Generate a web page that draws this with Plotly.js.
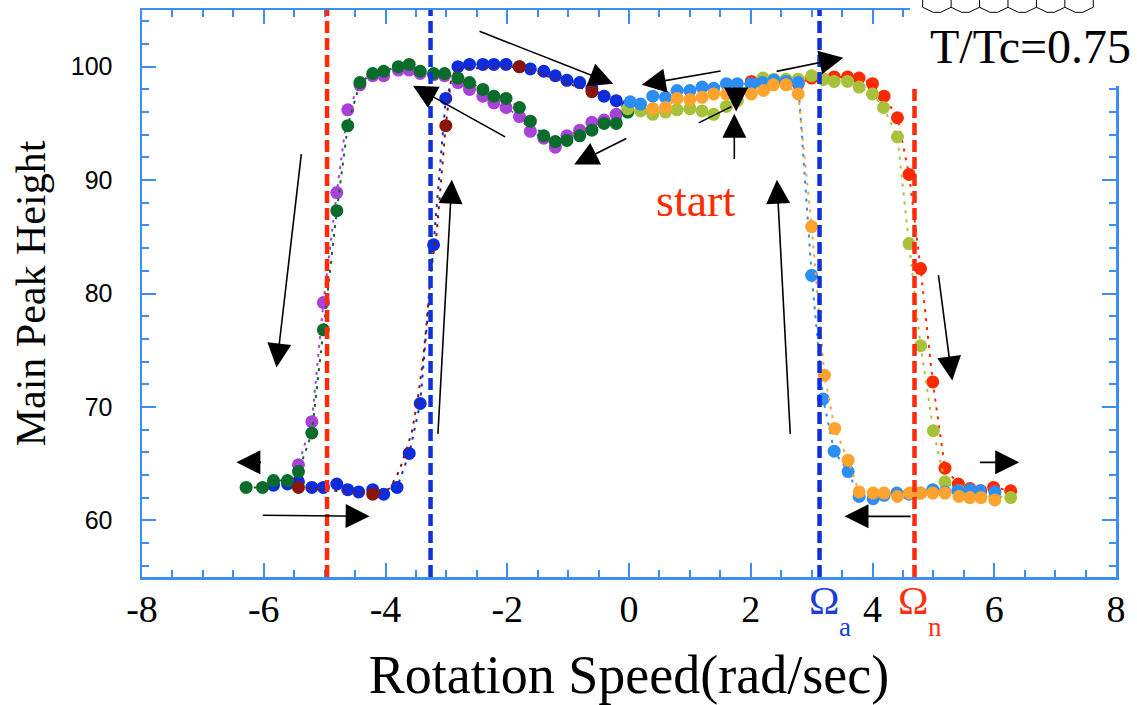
<!DOCTYPE html>
<html>
<head>
<meta charset="utf-8">
<script src="https://cdn.plot.ly/plotly-3.0.1.min.js"></script>
<style>
  html, body { margin: 0; padding: 0; background: #ffffff; }
  #chart { width: 1137px; height: 705px; }
</style>
</head>
<body>
<div id="chart"></div>
<script>
// ---- Measured runs: rotation speed (rad/sec) vs main peak height ----

// decreasing run towards negative speeds
const purpleX = [-0.21, -0.41, -0.61, -0.81, -1.02, -1.21, -1.40, -1.62, -1.80, -2.02, -2.22, -2.40, -2.62, -2.81, -3.03, -3.21, -3.43, -3.61, -3.79, -4.03, -4.21, -4.42, -4.62, -4.80, -5.02, -5.21, -5.43];
const purpleY = [95.8, 95.3, 95.1, 94.4, 93.9, 92.9, 93.7, 94.3, 95.6, 96.4, 96.8, 97.4, 98.0, 98.6, 99.2, 99.3, 99.4, 99.7, 99.7, 99.2, 99.2, 98.4, 96.2, 88.9, 79.2, 68.7, 64.9];

const greenX = [-0.02, -0.21, -0.41, -0.61, -0.81, -1.02, -1.21, -1.40, -1.62, -1.80, -2.02, -2.22, -2.40, -2.62, -2.81, -3.03, -3.21, -3.43, -3.61, -3.79, -4.03, -4.21, -4.42, -4.62, -4.80, -5.02, -5.21, -5.43, -5.61, -5.84, -6.02, -6.29];
const greenY = [96.0, 95.0, 95.0, 94.4, 93.9, 93.5, 93.4, 93.9, 95.2, 96.4, 97.2, 97.4, 98.0, 98.6, 99.0, 99.4, 99.4, 99.6, 100.2, 100.0, 99.6, 99.4, 98.6, 94.8, 87.3, 76.8, 67.7, 64.3, 63.5, 63.5, 62.9, 62.9];

// increasing run back from negative speeds
const blueX = [-5.84, -5.61, -5.43, -5.21, -5.02, -4.80, -4.62, -4.44, -4.21, -4.03, -3.81, -3.61, -3.43, -3.21, -3.01, -2.81, -2.62, -2.40, -2.22, -2.02, -1.80, -1.62, -1.40, -1.21, -1.02, -0.81, -0.61, -0.41, -0.21, -0.02];
const blueY = [63.1, 63.2, 63.4, 62.9, 62.9, 63.2, 62.7, 62.5, 62.7, 62.3, 62.9, 65.9, 70.3, 84.3, 97.2, 100.0, 100.2, 100.2, 100.2, 100.2, 100.0, 99.8, 99.6, 99.2, 98.8, 98.6, 98.1, 97.4, 97.0, 96.6];

const maroonX = [-5.43, -4.21, -3.01, -1.80, -0.61];
const maroonY = [62.9, 62.3, 94.8, 100.0, 97.8];
const maroonPathX = [-5.43, -4.21, -3.93, -3.77, -3.57, -3.47, -3.39, -3.33, -3.28, -3.22, -3.16, -3.09, -3.05, -3.01, -2.93, -2.85, -1.80, -0.61];
const maroonPathY = [62.9, 62.3, 62.8, 64.4, 67.7, 70.7, 73.9, 77.0, 80.3, 83.3, 85.3, 89.4, 92.0, 94.8, 98.6, 99.8, 100.0, 97.8];

// decreasing run from positive speeds
const lightBlueX = [6.01, 5.77, 5.60, 5.40, 5.19, 4.99, 4.79, 4.60, 4.40, 4.19, 4.01, 3.78, 3.60, 3.37, 3.19, 3.00, 2.78, 2.58, 2.38, 2.19, 2.01, 1.78, 1.60, 1.39, 1.20, 1.00, 0.79, 0.60, 0.39, 0.19, 0.02];
const lightBlueY = [62.5, 62.6, 62.7, 62.6, 62.5, 62.7, 62.4, 62.3, 62.4, 62.2, 61.9, 62.1, 64.3, 66.1, 70.7, 81.6, 98.6, 98.7, 98.8, 98.6, 98.5, 98.5, 98.5, 98.1, 98.2, 97.9, 97.9, 97.3, 97.4, 96.7, 96.9];

const orangeX = [6.01, 5.78, 5.60, 5.42, 5.19, 4.99, 4.79, 4.61, 4.41, 4.19, 4.01, 3.78, 3.60, 3.38, 3.21, 3.00, 2.78, 2.58, 2.37, 2.21, 2.01, 1.78, 1.60, 1.39, 1.20, 1.00, 0.79, 0.60, 0.39];
const orangeY = [61.8, 62.0, 62.0, 62.1, 62.4, 62.4, 62.4, 62.4, 62.1, 62.4, 62.4, 62.5, 65.3, 68.1, 72.8, 85.9, 97.6, 98.4, 98.4, 97.9, 97.6, 97.6, 97.6, 97.6, 97.3, 97.1, 97.2, 96.4, 96.3];

// increasing run towards positive speeds
const redX = [2.01, 2.20, 2.38, 2.58, 2.78, 3.00, 3.19, 3.37, 3.59, 3.78, 4.00, 4.19, 4.41, 4.60, 4.79, 4.99, 5.19, 5.41, 5.60, 5.78, 5.99, 6.27];
const redY = [98.7, 98.8, 98.7, 98.7, 98.5, 99.0, 98.9, 99.1, 99.1, 99.0, 98.5, 97.4, 95.5, 90.5, 82.2, 72.2, 64.6, 63.2, 62.8, 62.6, 62.9, 62.6];

const yellowGreenX = [-0.02, 0.19, 0.39, 0.60, 0.79, 1.00, 1.20, 1.39, 1.60, 1.78, 2.01, 2.20, 2.38, 2.58, 2.78, 3.00, 3.20, 3.37, 3.59, 3.78, 4.00, 4.18, 4.41, 4.60, 4.79, 5.00, 5.19, 5.42, 5.60, 5.78, 6.01, 6.27];
const yellowGreenY = [96.3, 96.1, 95.8, 96.0, 96.2, 96.3, 96.1, 95.8, 96.5, 97.0, 98.3, 99.0, 98.9, 98.9, 98.9, 99.2, 98.9, 98.7, 98.7, 98.2, 97.6, 96.4, 93.8, 84.4, 75.4, 67.9, 63.4, 62.6, 62.1, 62.1, 62.1, 62.0];

// critical rotation speeds (dashed markers) on both sides
const omegaN = [-4.96, 4.69];
const omegaA = [-3.26, 3.13];

// axis tick labels (plain hyphen as minus sign)
const xTickVals = [-8, -6, -4, -2, 0, 2, 4, 6, 8];
const xTickText = ['-8', '-6', '-4', '-2', '0', '2', '4', '6', '8'];

// ---- styling ----
const AXIS_BLUE = '#3c8ef4';
const DOT = '3px,6px';
const SERIF = '"Liberation Serif", "Times New Roman", serif';
const SANS = '"Liberation Sans", Arial, sans-serif';

function run(x, y, color) {
  return {
    x: x, y: y, type: 'scatter', mode: 'lines+markers',
    line: { color: color, width: 2, dash: DOT },
    marker: { color: color, size: 13, line: { width: 0 } },
    hoverinfo: 'x+y', showlegend: false
  };
}

const traces = [
  run(blueX, blueY, '#0b2ddc'),
  { x: maroonPathX, y: maroonPathY, type: 'scatter', mode: 'lines',
    line: { color: '#8b1608', width: 2, dash: DOT }, hoverinfo: 'skip', showlegend: false },
  { x: maroonX, y: maroonY, type: 'scatter', mode: 'markers',
    marker: { color: '#8b1608', size: 13, line: { width: 0 } }, showlegend: false },
  run(purpleX, purpleY, '#a842d8'),
  run(greenX, greenY, '#0a6c2a'),
  run(redX, redY, '#ff2a00'),
  run(yellowGreenX, yellowGreenY, '#a7c23a'),
  run(lightBlueX, lightBlueY, '#2c8ef4'),
  run(orangeX, orangeY, '#ffa22e')
];

// vertical dashed lines at the critical speeds
const shapes = [];
omegaN.forEach(v => shapes.push({
  type: 'line', xref: 'x', yref: 'paper', x0: v, x1: v, y0: 0, y1: 1, layer: 'above',
  line: { color: '#ff2a0a', width: 4.5, dash: '12px,5px' }
}));
omegaA.forEach(v => shapes.push({
  type: 'line', xref: 'x', yref: 'paper', x0: v, x1: v, y0: 0, y1: 1, layer: 'above',
  line: { color: '#1030d8', width: 4.5, dash: '12px,5px' }
}));

// white panel behind the temperature label
shapes.push({
  type: 'rect', xref: 'paper', yref: 'paper', x0: 0.7885, x1: 1.03, y0: 0.866, y1: 1.03,
  fillcolor: '#ffffff', line: { width: 0 }, layer: 'above'
});

// honeycomb edge above the label
(function () {
  const x0 = 0.8015, w = 0.0292, d = 0.0108;
  const top = 1.0176, joint = 1.0048, bottom = 0.9959;
  let p = '';
  for (let i = 0; i < 6; i++) {
    const xs = x0 + i * w;
    p += `M${xs},${top}L${xs},${joint}L${xs + d},${bottom}L${xs + w - d},${bottom}L${xs + w},${joint}`;
  }
  p += `M${x0 + 6 * w},${joint}L${x0 + 6 * w},${top}`;
  shapes.push({ type: 'path', xref: 'paper', yref: 'paper', path: p, layer: 'above',
    line: { color: '#000000', width: 1 } });
})();

// direction arrows: [tailX, tailY, tipX, tipY, head]
const arrows = [
  [-2.48, 103.17, -0.26, 98.50, 2],
  [1.53, 99.65, 0.21, 98.41, 2],
  [2.40, 99.56, 3.52, 100.79, 2],
  [-2.01, 93.74, -3.55, 98.33, 2],
  [-0.02, 93.74, -0.90, 91.37, 2],
  [1.73, 91.72, 1.73, 95.85, 2],
  [1.76, 97.50, 1.76, 96.05, 2],
  [1.12, 94.98, 1.68, 96.48, 0],
  [2.65, 67.49, 2.43, 90.04, 2],
  [5.08, 81.76, 5.31, 72.33, 2],
  [5.74, 65.11, 6.41, 65.11, 2],
  [4.65, 60.35, 3.54, 60.35, 2],
  [-6.04, 60.44, -4.26, 60.35, 2],
  [-6.02, 65.11, -6.45, 65.11, 2],
  [-5.38, 92.42, -5.79, 73.48, 2],
  [-3.14, 67.49, -2.91, 90.04, 2]
];

const annotations = arrows.map(a => ({
  x: a[2], y: a[3], ax: a[0], ay: a[1], xref: 'x', yref: 'y', axref: 'x', ayref: 'y',
  text: '', showarrow: true, arrowhead: a[4], arrowsize: 3.0, arrowwidth: 1.6,
  arrowcolor: '#000000', standoff: 0, startstandoff: 0
}));

function label(x, y, xref, yref, text, size, color) {
  return { x: x, y: y, xref: xref, yref: yref, text: text, showarrow: false,
    xanchor: 'center', yanchor: 'middle',
    font: { family: SERIF, size: size, color: color } };
}

annotations.push(
  label(1.09, 88.2, 'x', 'y', 'start', 46, '#ff2a00'),
  label(0.9127, 0.935, 'paper', 'paper', 'T/Tc=0.75', 48, '#000000'),
  label(3.21, -0.041, 'x', 'paper', 'Ω', 41, '#1c3fd8'),
  label(3.54, -0.088, 'x', 'paper', 'a', 27, '#1c3fd8'),
  label(4.67, -0.041, 'x', 'paper', 'Ω', 41, '#ff3010'),
  label(5.02, -0.088, 'x', 'paper', 'n', 27, '#ff3010')
);

const axisCommon = {
  showline: true, linecolor: AXIS_BLUE, linewidth: 2.5, mirror: 'ticks',
  ticks: 'inside', tickcolor: AXIS_BLUE, tickwidth: 2, ticklen: 14,
  showgrid: false, zeroline: false, fixedrange: true
};

const layout = {
  width: 1137, height: 705,
  margin: { l: 142, r: 21, t: 10, b: 128 },
  paper_bgcolor: '#ffffff', plot_bgcolor: '#ffffff',
  showlegend: false,
  xaxis: Object.assign({}, axisCommon, {
    range: [-8, 8], tickmode: 'array', tickvals: xTickVals, ticktext: xTickText,
    minor: { dtick: 0.5, ticks: 'inside', ticklen: 7, tickwidth: 2, tickcolor: AXIS_BLUE },
    tickfont: { family: SERIF, size: 38, color: '#000000' },
    ticklabelstandoff: -3,
    title: { text: 'Rotation Speed(rad/sec)', font: { family: SERIF, size: 54, color: '#000000' }, standoff: 26 }
  }),
  yaxis: Object.assign({}, axisCommon, {
    range: [55, 105], dtick: 10, tick0: 0,
    minor: { dtick: 2, ticks: 'inside', ticklen: 7, tickwidth: 2, tickcolor: AXIS_BLUE },
    tickfont: { family: SANS, size: 25, color: '#000000' },
    ticklabelstandoff: 22,
    title: { text: 'Main Peak Height', font: { family: SERIF, size: 42, color: '#000000' }, standoff: 12 }
  }),
  shapes: shapes,
  annotations: annotations
};

Plotly.newPlot('chart', traces, layout, { displayModeBar: false, staticPlot: true });
</script>
</body>
</html>
